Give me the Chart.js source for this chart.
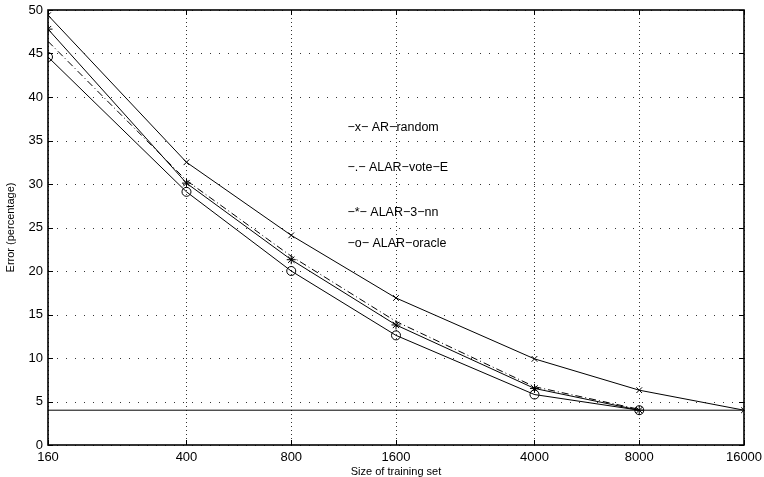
<!DOCTYPE html>
<html>
<head>
<meta charset="utf-8">
<script src="https://cdn.jsdelivr.net/npm/chart.js@4/dist/chart.umd.min.js"></script>
<style>
  html, body { margin: 0; padding: 0; background: #fff; }
  #wrap { width: 764px; height: 477px; }
</style>
</head>
<body>
<div id="wrap"><canvas id="errChart"></canvas></div>
<script>
// training set sizes (log x axis)
const sizes = [160, 400, 800, 1600, 4000, 8000, 16000];
// error in percent
const arRandom   = [49.4, 32.5, 24.1, 16.9, 9.9, 6.3, 4.0];
const alarVoteE  = [46.4, 30.4, 21.7, 14.2, 6.7, 4.1];
const alarThreeNN = [47.8, 30.1, 21.3, 13.8, 6.5, 4.0];
const alarOracle = [44.6, 29.1, 20.0, 12.6, 5.8, 4.0];
const bestLine   = [4.0, 4.0];
const bestSizes  = [160, 16000];
const yTicks = [0, 5, 10, 15, 20, 25, 30, 35, 40, 45, 50];

// text legend written inside the axes (data coordinates)
const legendText = ["\u2212x\u2212 AR\u2212random", "\u2212.\u2212 ALAR\u2212vote\u2212E", "\u2212*\u2212 ALAR\u22123\u2212nn", "\u2212o\u2212 ALAR\u2212oracle"];
const legendX = [1160, 1160, 1160, 1160];
const legendY = [36.5, 31.9, 26.7, 23.2];

function pts(xs, ys) {
  var out = [];
  for (let i = 0; i < ys.length; i++) {
    out.push({ x: xs[i], y: ys[i] });
  }
  return out;
}

const FONT = "'Liberation Sans', Arial, Helvetica, sans-serif";

// dotted matlab style grid, drawn under the lines
var gridPlugin = {
  id: "gridPlugin",
  beforeDatasetsDraw: function (chart) {
    var ctx = chart.ctx;
    var a = chart.chartArea;
    var xs = chart.scales.x;
    var ys = chart.scales.y;
    ctx.save();
    ctx.strokeStyle = "#333";
    ctx.lineWidth = 1;
    ctx.setLineDash([1, 3]);
    ctx.beginPath();
    sizes.forEach(function (v) {
      var px = Math.round(xs.getPixelForValue(v)) + 0.5;
      ctx.moveTo(px, a.top); ctx.lineTo(px, a.bottom);
    });
    ctx.stroke();
    ctx.setLineDash([1, 8]);
    ctx.beginPath();
    yTicks.forEach(function (v) {
      var py = Math.round(ys.getPixelForValue(v)) + 0.5;
      ctx.moveTo(a.left, py); ctx.lineTo(a.right, py);
    });
    ctx.stroke();
    ctx.restore();
  }
};

var boxPlugin = {
  id: "boxPlugin",
  afterDraw: function (chart) {
    var ctx = chart.ctx;
    var a = chart.chartArea;
    var xs = chart.scales.x;
    var ys = chart.scales.y;
    ctx.save();
    // inner tick marks
    ctx.strokeStyle = "#000";
    ctx.lineWidth = 1;
    ctx.beginPath();
    sizes.forEach(function (v) {
      var px = Math.round(xs.getPixelForValue(v)) + 0.5;
      ctx.moveTo(px, a.bottom); ctx.lineTo(px, a.bottom - 5);
      ctx.moveTo(px, a.top); ctx.lineTo(px, a.top + 5);
    });
    yTicks.forEach(function (v) {
      var py = Math.round(ys.getPixelForValue(v)) + 0.5;
      ctx.moveTo(a.left, py); ctx.lineTo(a.left + 5, py);
      ctx.moveTo(a.right, py); ctx.lineTo(a.right - 5, py);
    });
    ctx.stroke();
    // frame
    ctx.lineWidth = 1.6;
    ctx.strokeRect(a.left, a.top, a.right - a.left, a.bottom - a.top);
    // legend text
    ctx.fillStyle = "#000";
    ctx.font = "12.5px " + FONT;
    ctx.textBaseline = "middle";
    ctx.textAlign = "left";
    for (let i = 0; i < legendText.length; i++) {
      ctx.fillText(legendText[i], xs.getPixelForValue(legendX[i]), ys.getPixelForValue(legendY[i]));
    }
    ctx.restore();
  }
};

var lineStyle = {
  borderColor: "#000",
  backgroundColor: "transparent",
  pointBorderColor: "#000",
  pointBackgroundColor: "transparent",
  borderWidth: 1,
  pointBorderWidth: 1,
  fill: false,
  tension: 0
};

new Chart(document.getElementById("errChart"), {
  type: "line",
  data: {
    datasets: [
      Object.assign({}, lineStyle, { label: "AR-random", data: pts(sizes, arRandom), pointStyle: "crossRot", pointRadius: 4 }),
      Object.assign({}, lineStyle, { label: "ALAR-vote-E", data: pts(sizes, alarVoteE), pointRadius: 0, borderDash: [7, 3, 1, 3] }),
      Object.assign({}, lineStyle, { label: "ALAR-3-nn", data: pts(sizes, alarThreeNN), pointStyle: "star", pointRadius: 4.5 }),
      Object.assign({}, lineStyle, { label: "ALAR-oracle", data: pts(sizes, alarOracle), pointStyle: "circle", pointRadius: 4.5 }),
      Object.assign({}, lineStyle, { label: "best", data: pts(bestSizes, bestLine), pointRadius: 0 })
    ]
  },
  options: {
    responsive: true,
    maintainAspectRatio: false,
    animation: false,
    layout: { padding: { top: 10, right: 20, left: 0, bottom: 0 } },
    plugins: {
      legend: { display: false },
      tooltip: { enabled: false }
    },
    scales: {
      x: {
        type: "logarithmic",
        min: 160,
        max: 16000,
        afterBuildTicks: function (scale) {
          scale.ticks = sizes.map(function (v) { return { value: v }; });
        },
        afterFit: function (scale) {
          scale.height = 32;
          scale.paddingLeft = 0;
          scale.paddingRight = 0;
        },
        ticks: {
          autoSkip: false,
          maxRotation: 0,
          color: "#000",
          font: { family: FONT, size: 13 },
          padding: 5,
          callback: function (v) { return String(v); }
        },
        grid: { display: false, drawTicks: false },
        border: { display: false },
        title: {
          display: true,
          text: "Size of training set",
          color: "#000",
          font: { family: FONT, size: 11 },
          padding: { top: 0, bottom: -2 }
        }
      },
      y: {
        min: 0,
        max: 50,
        afterBuildTicks: function (scale) {
          scale.ticks = yTicks.map(function (v) { return { value: v }; });
        },
        afterFit: function (scale) {
          scale.width = 48;
          scale.paddingTop = 0;
          scale.paddingBottom = 0;
        },
        ticks: {
          color: "#000",
          font: { family: FONT, size: 13 },
          padding: 5
        },
        grid: { display: false, drawTicks: false },
        border: { display: false },
        title: {
          display: true,
          text: "Error (percentage)",
          color: "#000",
          font: { family: FONT, size: 11 },
          padding: { top: 4, bottom: 0 }
        }
      }
    }
  },
  plugins: [gridPlugin, boxPlugin]
});
</script>
</body>
</html>
